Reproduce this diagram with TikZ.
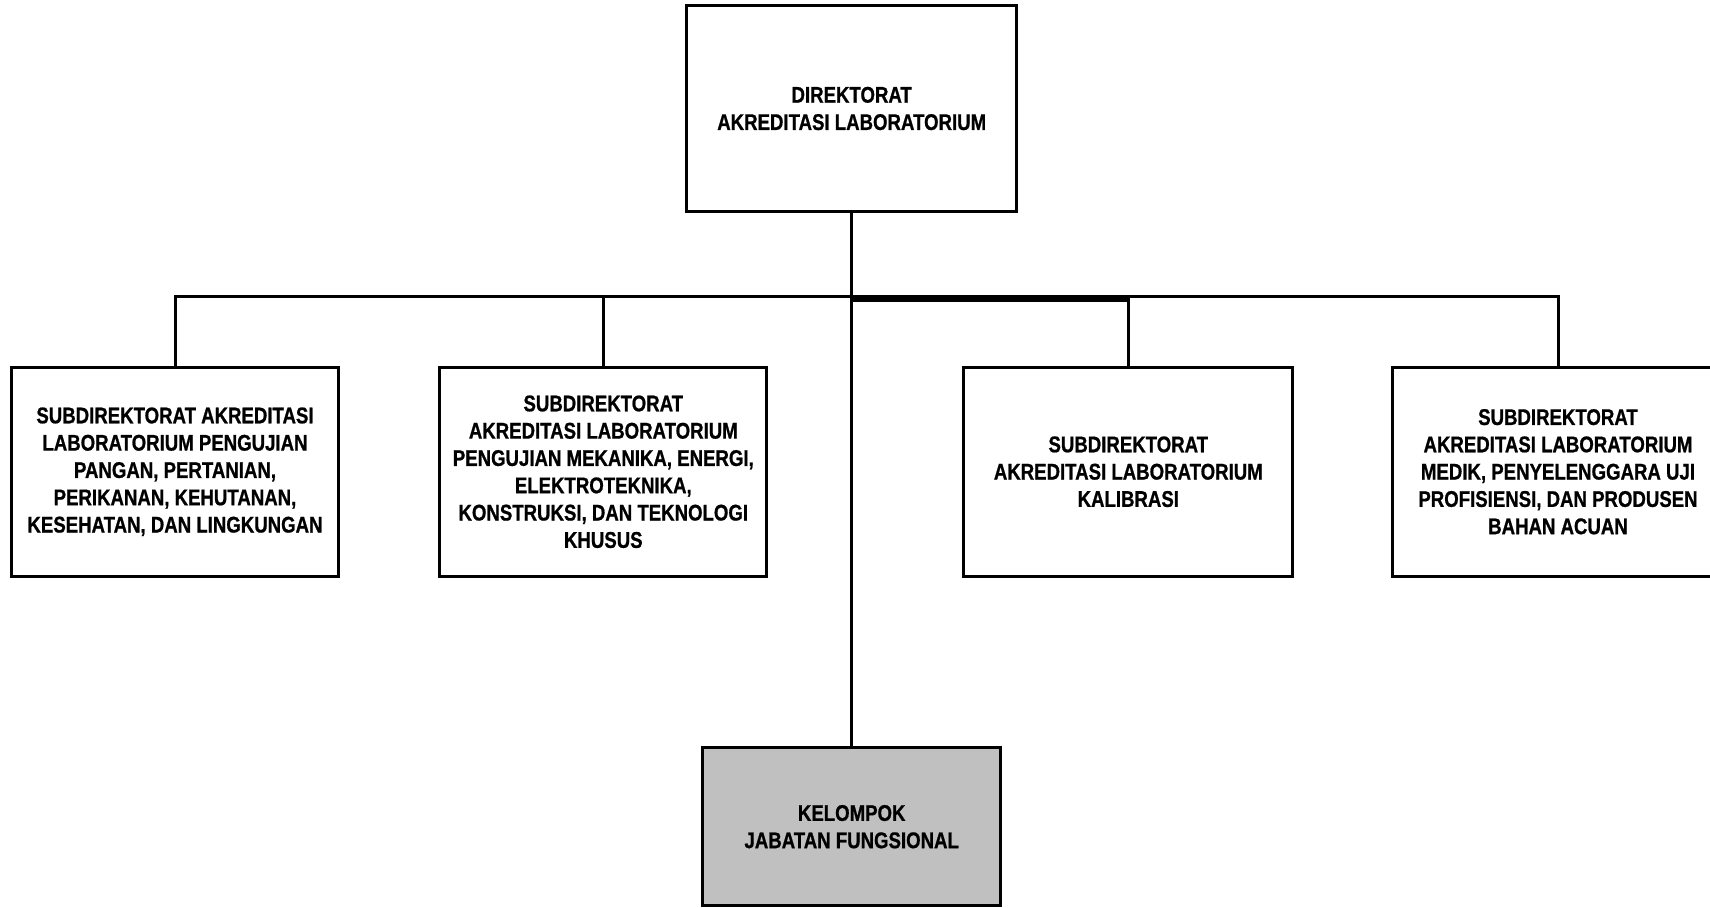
\documentclass[tikz,border=0pt]{standalone}
\usepackage{fontspec}
\setmainfont{Liberation Sans}
\newfontfamily\narrowfont{Liberation Sans}[FakeStretch=0.82, FakeBold=0.8]
\begin{document}
\begin{tikzpicture}[x=1bp,y=-1bp,
  box/.style={draw=black, line width=3bp, rectangle, inner sep=0pt, align=center,
    font=\narrowfont\bfseries\fontsize{22.7bp}{27.3bp}\selectfont},
  conn/.style={draw=black, line width=3bp},
  thickconn/.style={draw=black, line width=6.5bp}]
\clip (0,0) rectangle (1710,907);
\fill[white] (0,0) rectangle (1710,907);
\node[box, minimum width=330bp, minimum height=205bp] (top) at (851.7,108.5)
  {DIREKTORAT\\AKREDITASI LABORATORIUM};
\node[box, minimum width=326.6bp, minimum height=208.5bp] (b1) at (175,471.75)
  {SUBDIREKTORAT AKREDITASI\\LABORATORIUM PENGUJIAN\\PANGAN, PERTANIAN,\\PERIKANAN, KEHUTANAN,\\KESEHATAN, DAN LINGKUNGAN};
\node[box, minimum width=326.7bp, minimum height=208.5bp] (b2) at (603.3,471.75)
  {SUBDIREKTORAT\\AKREDITASI LABORATORIUM\\PENGUJIAN MEKANIKA, ENERGI,\\ELEKTROTEKNIKA,\\KONSTRUKSI, DAN TEKNOLOGI\\KHUSUS};
\node[box, minimum width=328.7bp, minimum height=208.5bp] (b3) at (1128.3,471.75)
  {SUBDIREKTORAT\\AKREDITASI LABORATORIUM\\KALIBRASI};
\node[box, minimum width=332bp, minimum height=208.5bp] (b4) at (1558,471.75)
  {SUBDIREKTORAT\\AKREDITASI LABORATORIUM\\MEDIK, PENYELENGGARA UJI\\PROFISIENSI, DAN PRODUSEN\\BAHAN ACUAN};
\node[box, fill={rgb,255:red,192;green,192;blue,192}, minimum width=298bp, minimum height=158bp] (kel) at (851.7,826.7)
  {KELOMPOK\\JABATAN FUNGSIONAL};
\coordinate (bus) at (851.7,296.7);
\coordinate (busthick) at (851.7,298.3);
\draw[conn] (top.south) -- (kel.north);
\draw[conn] (b1.north) |- (bus);
\draw[conn] (b4.north) |- (bus);
\draw[conn] (b2.north) -- (b2.north |- bus);
\draw[conn] (b3.north) -- (b3.north |- bus);
\draw[thickconn] (busthick) -- (b3.north |- busthick);
\end{tikzpicture}
\end{document}
